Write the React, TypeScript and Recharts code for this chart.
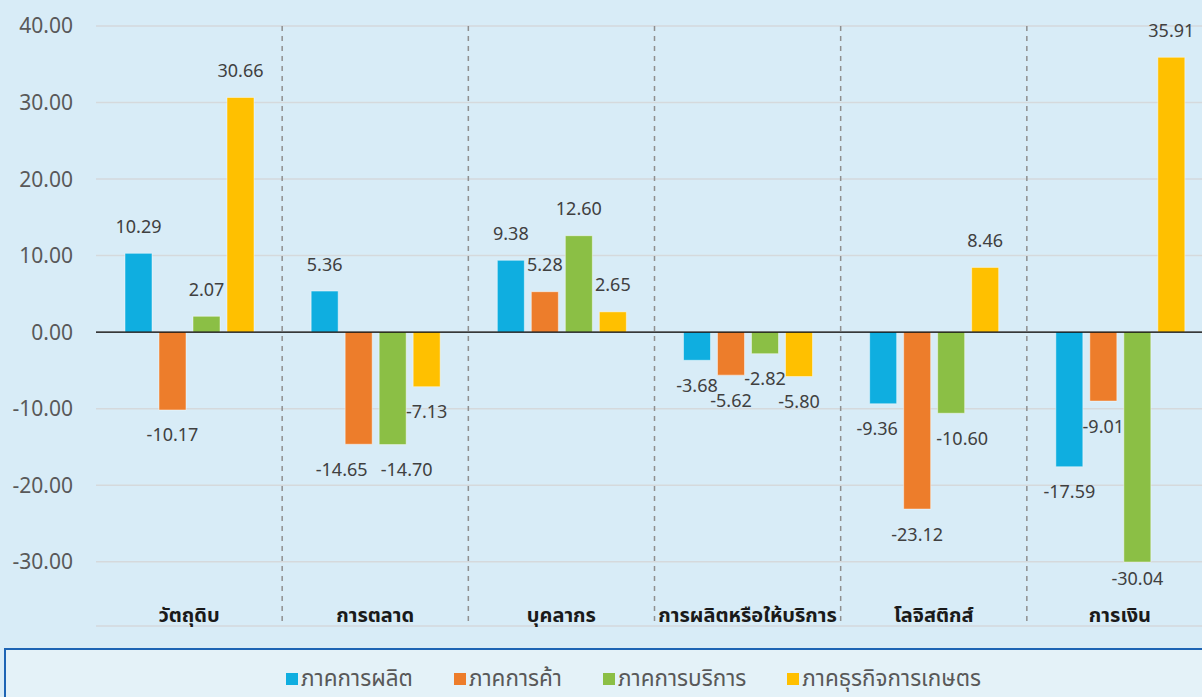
import { BarChart, Bar, XAxis, YAxis, CartesianGrid, ReferenceLine, LabelList, Legend } from "recharts";

const categories = ["วัตถุดิบ", "การตลาด", "บุคลากร", "การผลิตหรือให้บริการ", "โลจิสติกส์", "การเงิน"];
const seriesNames = ["ภาคการผลิต", "ภาคการค้า", "ภาคการบริการ", "ภาคธุรกิจการเกษตร"];
const seriesColors = ["#0FAEE0", "#ED7D2B", "#8BBF45", "#FFC000"];

const production = [10.29, 5.36, 9.38, -3.68, -9.36, -17.59];
const trade = [-10.17, -14.65, 5.28, -5.62, -23.12, -9.01];
const service = [2.07, -14.7, 12.6, -2.82, -10.6, -30.04];
const agri = [30.66, -7.13, 2.65, -5.8, 8.46, 35.91];

const yTicks = [-30, -20, -10, 0, 10, 20, 30, 40];
const separators = [1, 2, 3, 4, 5];

// label nudges (series-category) where Excel moved labels apart
const labelNudge: Record<string, { dx: number; dy: number }> = {
    "1-1": { dx: -17, dy: 0 },
    "2-1": { dx: 14, dy: 0 },
    "0-4": { dx: -6, dy: 0 },
    "2-4": { dx: 11, dy: 0 },
    "2-5": { dx: 0, dy: -9 },
};

const chartData = categories.map((name, i) => ({
    name,
    s0: production[i],
    s1: trade[i],
    s2: service[i],
    s3: agri[i],
}));

const FONT = "'Noto Sans Thai', 'Noto Sans', 'DejaVu Sans', sans-serif";

const makeLabel = (series: number) => (props: any) => {
    const { x, y, width, height, value, index } = props;
    const nudge = labelNudge[`${series}-${index}`] || { dx: 0, dy: 0 };
    const cx = Number(x) + Number(width) / 2 + nudge.dx;
    const top = Math.min(Number(y), Number(y) + Number(height));
    const bottom = Math.max(Number(y), Number(y) + Number(height));
    const ty = (value >= 0 ? top - 26 : bottom + 26) + nudge.dy;
    return (
        <text x={cx} y={ty} textAnchor="middle" dominantBaseline="central" fontSize={18} fill="#404040" fontFamily={FONT}>
            {Number(value).toFixed(2)}
        </text>
    );
};

const CategoryTick = (props: any) => {
    const { x, y, payload } = props;
    return (
        <text x={x} y={y} dy={-4} textAnchor="middle" fontSize={20} fontWeight="bold" fill="#1a1a1a" fontFamily={FONT}>
            {payload.value}
        </text>
    );
};

const LegendBox = () => (
    <div
        style={{
            width: 1230,
            height: 62,
            boxSizing: "border-box",
            border: "2px solid #1D64B4",
            background: "#E4F2F8",
            display: "flex",
            alignItems: "center",
            paddingLeft: 280,
            gap: 41,
            fontFamily: FONT,
            fontSize: 22.5,
            color: "#595959",
        }}
    >
        {seriesNames.map((n, i) => (
            <div key={n} style={{ display: "flex", alignItems: "center" }}>
                <span style={{ width: 12, height: 12, background: seriesColors[i], marginRight: 3, display: "inline-block" }} />
                <span>{n}</span>
            </div>
        ))}
    </div>
);

export default function App() {
    return (
        <div
            style={{
                position: "fixed",
                left: 0,
                top: 0,
                width: 1202,
                height: 697,
                overflow: "hidden",
                background: "#D8ECF7",
            }}
        >
            <BarChart
                width={1230}
                height={710}
                data={chartData}
                margin={{ top: 26, right: 17, left: 0, bottom: 0 }}
                barSize={27}
                barGap={7}
            >
                <CartesianGrid horizontal vertical={false} stroke="#D5D9DC" strokeWidth={1.5} />
                <CartesianGrid
                    horizontal={false}
                    vertical
                    stroke="#8F8F8F"
                    strokeWidth={1.5}
                    strokeDasharray="5 5"
                    verticalCoordinatesGenerator={({ offset }: any) =>
                        separators.map((s) => offset.left + (offset.width * s) / categories.length)
                    }
                />
                <XAxis
                    dataKey="name"
                    height={84}
                    axisLine={false}
                    tickLine={false}
                    tickSize={0}
                    tickMargin={0}
                    interval={0}
                    tick={<CategoryTick />}
                />
                <YAxis
                    width={96}
                    domain={[-38.4, 40]}
                    ticks={yTicks}
                    allowDataOverflow
                    axisLine={false}
                    tickLine={false}
                    tickSize={0}
                    tickMargin={23}
                    tickFormatter={(v) => Number(v).toFixed(2)}
                    tick={{ fontSize: 21, fill: "#595959", fontFamily: FONT }}
                />
                <ReferenceLine y={0} stroke="#000" strokeWidth={1.3} />
                {seriesNames.map((n, i) => (
                    <Bar
                        key={n}
                        dataKey={`s${i}`}
                        name={n}
                        fill={seriesColors[i]}
                        stroke="rgba(255,255,255,0.45)"
                        strokeWidth={1}
                        isAnimationActive={false}
                    >
                        <LabelList dataKey={`s${i}`} content={makeLabel(i)} />
                    </Bar>
                ))}
                <Legend
                    layout="vertical"
                    align="center"
                    verticalAlign="middle"
                    wrapperStyle={{ left: 4, top: 648, width: 1230 }}
                    content={() => <LegendBox />}
                />
            </BarChart>
        </div>
    );
}
